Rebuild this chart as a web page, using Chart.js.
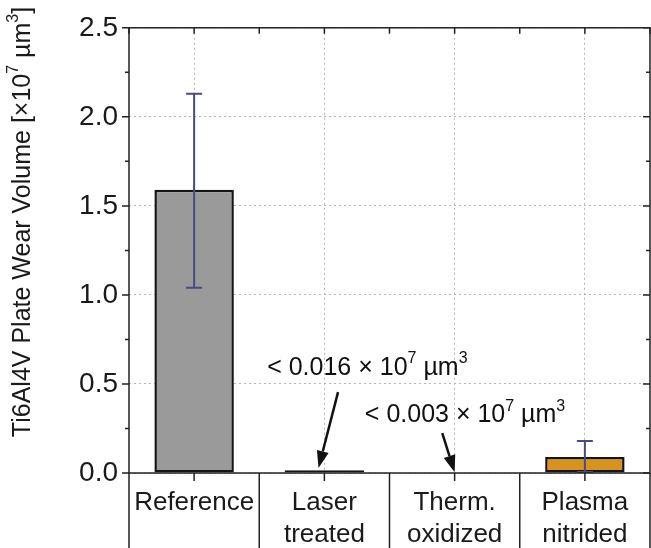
<!DOCTYPE html>
<html>
<head>
<meta charset="utf-8">
<script src="https://cdn.jsdelivr.net/npm/chart.js@4.4.1/dist/chart.umd.min.js"></script>
<style>
  body { margin: 0; background: #fff; }
</style>
</head>
<body>
<canvas id="wear-chart" width="651" height="548"></canvas>
<script>
// Plate wear volume per surface treatment (x10^7 µm³)
const categories = [['Reference'], ['Laser', 'treated'], ['Therm.', 'oxidized'], ['Plasma', 'nitrided']];
const wearVolume = [1.59, 0.016, 0.003, 0.09];
const errLow = [1.04, null, null, 0.005];
const errHigh = [2.13, null, null, 0.18];
const yTicks = [0, 0.5, 1.0, 1.5, 2.0, 2.5];
const yTitle = 'Ti6Al4V Plate Wear Volume [×10^7 µm^3]';

// notes with arrows, given in category index / value units
const notes = [
  { text: '< 0.016 × 10^7 µm^3', at: [1.33, 0.59], from: [1.105, 0.454], to: [0.955, 0.028] },
  { text: '< 0.003 × 10^7 µm^3', at: [2.08, 0.325], from: [1.905, 0.224], to: [2.0, 0.004] }
];

const FONT = '"Liberation Sans", Arial, sans-serif';

// text with ^x superscripts, centred on (x, y)
function drawRich(ctx, str, x, y, size) {
  const parts = [];
  for (let i = 0; i < str.length; i++) {
    if (str[i] === '^') { parts.push([str[i + 1], true]); i++; }
    else if (parts.length && !parts[parts.length - 1][1]) parts[parts.length - 1][0] += str[i];
    else parts.push([str[i], false]);
  }
  const supSize = Math.round(size * 0.62);
  let total = 0;
  parts.forEach(p => {
    ctx.font = (p[1] ? supSize : size) + 'px ' + FONT;
    total += ctx.measureText(p[0]).width;
  });
  let cx = x - total / 2;
  ctx.textAlign = 'left';
  ctx.textBaseline = 'middle';
  parts.forEach(p => {
    ctx.font = (p[1] ? supSize : size) + 'px ' + FONT;
    ctx.fillText(p[0], cx, p[1] ? y - size * 0.36 : y);
    cx += ctx.measureText(p[0]).width;
  });
}

const framePlugin = {
  id: 'frame',
  afterDatasetsDraw(chart) {
    const ctx = chart.ctx;
    const xs = chart.scales.x, ys = chart.scales.y;
    // error bars
    ctx.save();
    ctx.strokeStyle = '#4b4a7e';
    ctx.lineWidth = 2;
    wearVolume.forEach((v, i) => {
      if (errLow[i] === null) return;
      const x = xs.getPixelForValue(i);
      const y1 = ys.getPixelForValue(errLow[i]);
      const y2 = ys.getPixelForValue(errHigh[i]);
      ctx.beginPath();
      ctx.moveTo(x, y1); ctx.lineTo(x, y2);
      ctx.moveTo(x - 8, y1); ctx.lineTo(x + 8, y1);
      ctx.moveTo(x - 8, y2); ctx.lineTo(x + 8, y2);
      ctx.stroke();
    });
    ctx.restore();
  },
  afterDraw(chart) {
    const ctx = chart.ctx;
    const a = chart.chartArea;
    const xs = chart.scales.x, ys = chart.scales.y;
    const H = chart.height;
    ctx.save();
    ctx.strokeStyle = '#222';
    ctx.lineWidth = 1.5;
    // frame
    ctx.strokeRect(a.left, a.top, a.right - a.left, a.bottom - a.top);
    ctx.beginPath();
    // x ticks at centres and boundaries
    for (let k = -0.5; k <= categories.length - 0.5; k += 0.5) {
      const x = xs.getPixelForValue(k);
      ctx.moveTo(x, a.top); ctx.lineTo(x, a.top + 6);
      ctx.moveTo(x, a.bottom); ctx.lineTo(x, a.bottom + 8);
    }
    // y ticks, major and minor
    for (let v = 0; v <= 2.5001; v += 0.25) {
      const y = ys.getPixelForValue(v);
      const major = Math.abs(v / 0.5 - Math.round(v / 0.5)) < 1e-6;
      ctx.moveTo(a.left, y); ctx.lineTo(a.left - (major ? 7 : 4), y);
      ctx.moveTo(a.right, y); ctx.lineTo(a.right - (major ? 7 : 4), y);
    }
    // table dividers under the axis
    for (let k = 0; k <= categories.length; k++) {
      const x = xs.getPixelForValue(k - 0.5);
      ctx.moveTo(x, a.bottom); ctx.lineTo(x, H);
    }
    ctx.stroke();

    // category labels
    ctx.fillStyle = '#1a1a1a';
    ctx.font = '26px ' + FONT;
    ctx.textAlign = 'center';
    ctx.textBaseline = 'middle';
    categories.forEach((lines, i) => {
      const x = xs.getPixelForValue(i);
      lines.forEach((t, j) => ctx.fillText(t, x, a.bottom + 30 + j * 32));
    });

    // y title
    ctx.save();
    ctx.translate(23, 222);
    ctx.rotate(-Math.PI / 2);
    drawRich(ctx, yTitle, 0, 0, 25);
    ctx.restore();

    // notes with arrows
    ctx.strokeStyle = '#111';
    ctx.fillStyle = '#111';
    notes.forEach(n => {
      drawRich(ctx, n.text, xs.getPixelForValue(n.at[0]), ys.getPixelForValue(n.at[1]), 25);
      const x1 = xs.getPixelForValue(n.from[0]), y1 = ys.getPixelForValue(n.from[1]);
      const x2 = xs.getPixelForValue(n.to[0]), y2 = ys.getPixelForValue(n.to[1]);
      const ang = Math.atan2(y2 - y1, x2 - x1);
      const len = 17, half = 6;
      const bx = x2 - len * Math.cos(ang), by = y2 - len * Math.sin(ang);
      ctx.lineWidth = 2.5;
      ctx.beginPath();
      ctx.moveTo(x1, y1); ctx.lineTo(bx, by);
      ctx.stroke();
      ctx.beginPath();
      ctx.moveTo(x2, y2);
      ctx.lineTo(bx + half * Math.sin(ang), by - half * Math.cos(ang));
      ctx.lineTo(bx - half * Math.sin(ang), by + half * Math.cos(ang));
      ctx.closePath();
      ctx.fill();
    });
    ctx.restore();
  }
};

new Chart(document.getElementById('wear-chart'), {
  type: 'bar',
  data: {
    labels: categories,
    datasets: [{
      data: wearVolume,
      backgroundColor: ['#9a9a9a', '#111111', '#222222', '#d8931f'],
      borderColor: '#151515',
      borderWidth: 2.5,
      borderSkipped: false,
      categoryPercentage: 1,
      barPercentage: 0.61
    }]
  },
  plugins: [framePlugin],
  options: {
    responsive: false,
    animation: false,
    devicePixelRatio: 1,
    layout: { padding: { left: 0, right: 1, top: 27, bottom: 75 } },
    plugins: { legend: { display: false }, tooltip: { enabled: false } },
    scales: {
      x: {
        offset: true,
        ticks: { display: false },
        grid: { offset: false, drawTicks: false, color: '#b5b5b5', lineWidth: 1 },
        border: { display: false, dash: [2, 3] },
        afterFit: s => { s.height = 0; }
      },
      y: {
        min: 0,
        max: 2.5,
        afterBuildTicks: s => { s.ticks = yTicks.map(v => ({ value: v })); },
        ticks: {
          padding: 11,
          color: '#1a1a1a',
          font: { size: 28, family: FONT },
          callback: v => v.toFixed(1)
        },
        grid: { drawTicks: false, color: '#b5b5b5', lineWidth: 1 },
        border: { display: false, dash: [2, 3] },
        afterFit: s => { s.width = 129; }
      }
    }
  }
});
</script>
</body>
</html>
